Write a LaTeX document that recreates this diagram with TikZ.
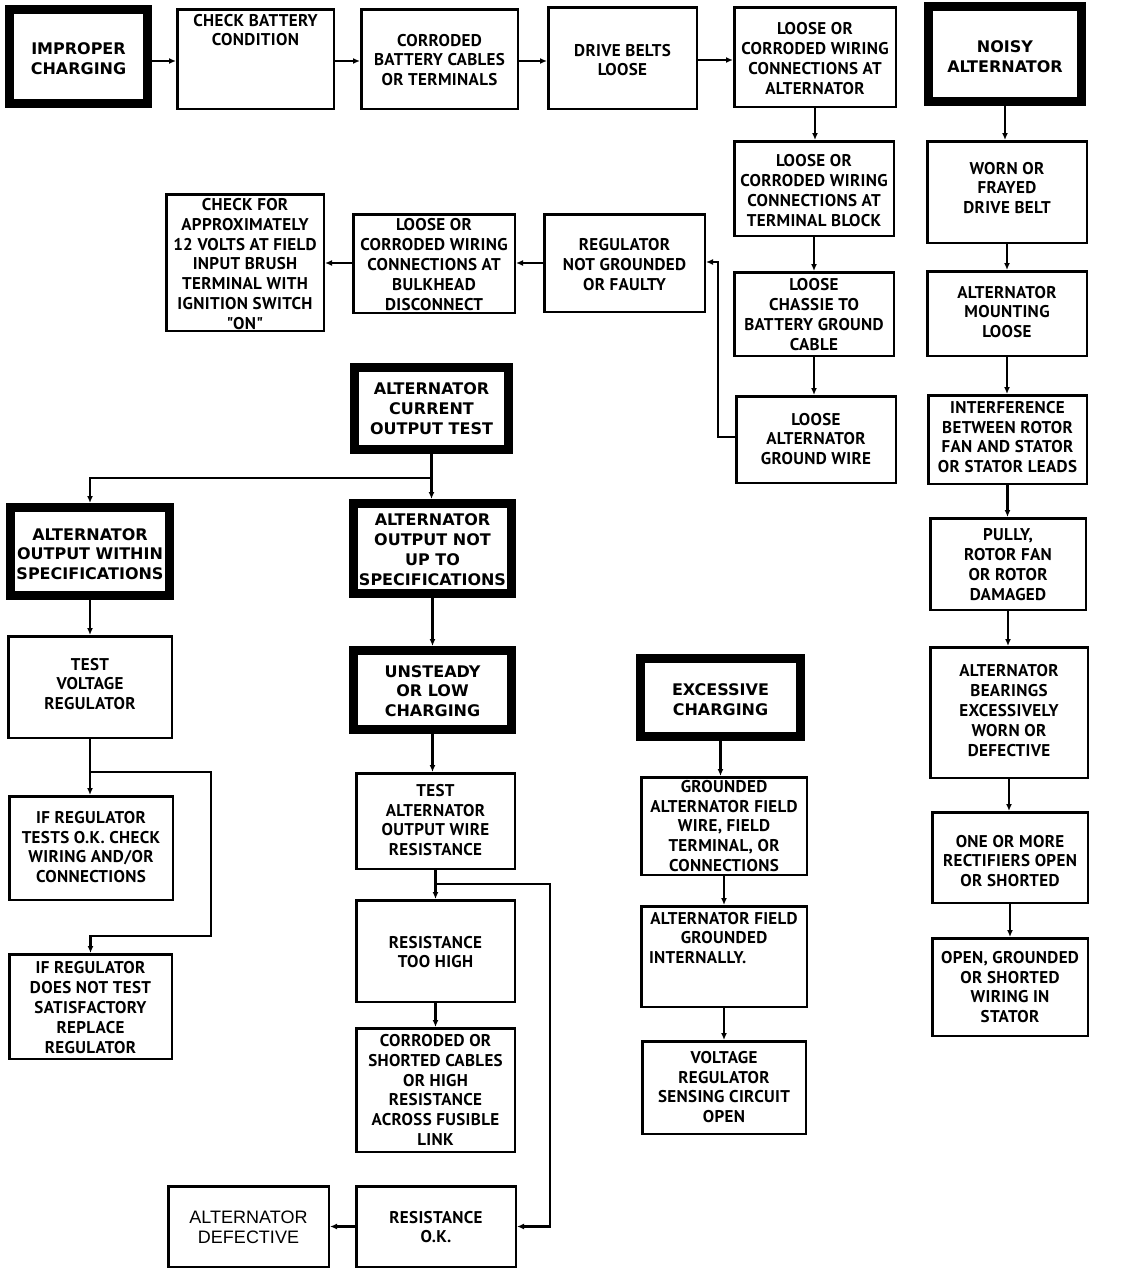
\documentclass[tikz,border=0pt]{standalone}
\usepackage{fontspec}
\setmainfont{PT Sans}[LetterSpace=2,Ligatures=TeXOff]
\newfontfamily\heavy{DejaVu Sans}
\newfontfamily\plainsans{Liberation Sans}
\usetikzlibrary{arrows.meta}
\def\insetnbox{2.5}
\def\insetkbox{9}
\newcommand\Bx[8]{%
  \pgfmathsetmacro\cx{(#3+#5)/2}%
  \pgfmathsetmacro\cy{(#4+#6)/2}%
  \pgfmathsetmacro\bw{#5-#3-\csname inset#1\endcsname}%
  \pgfmathsetmacro\bh{#6-#4-\csname inset#1\endcsname}%
  \node[#1, minimum width=\bw pt, minimum height=\bh pt] (#2) at (\cx,\cy) {};
  \node[#1 txt] at (\cx,#7) {#8};
}
\tikzset{
  nbox/.style={draw, line width=2.5pt, inner sep=0pt, rectangle},
  kbox/.style={draw, line width=9pt, inner sep=0pt, rectangle},
  nbox txt/.style={inner sep=0pt, align=center, font=\bfseries\fontsize{17}{19.8}\selectfont},
  kbox txt/.style={inner sep=0pt, align=center, font=\heavy\bfseries\fontsize{16}{19.8}\selectfont},
  conn/.style={line width=2.5pt, -{Latex[length=7pt,width=6pt]}},
}
\begin{document}
\begin{tikzpicture}[x=1pt,y=-1pt]
\fill[white] (0,0) rectangle (1120,1272);
\useasboundingbox (0,0) rectangle (1120,1272);
% top row
\Bx{kbox}{imp}{5}{5}{152}{108}{59}{IMPROPER\\CHARGING}
\Bx{nbox}{chk}{176}{8}{335}{110}{30}{CHECK BATTERY\\CONDITION}
\Bx{nbox}{cor}{360}{8}{519}{110}{60}{CORRODED\\BATTERY CABLES\\OR TERMINALS}
\Bx{nbox}{drv}{547}{6}{698}{110}{60}{DRIVE BELTS\\LOOSE}
\Bx{nbox}{lca}{733}{6}{897}{108}{58.5}{LOOSE OR\\CORRODED WIRING\\CONNECTIONS AT\\ALTERNATOR}
\Bx{kbox}{noisy}{924}{2}{1086}{106}{57}{NOISY\\ALTERNATOR}
% right column
\Bx{nbox}{worn}{926}{140}{1088}{244}{188}{WORN OR\\FRAYED\\DRIVE BELT}
\Bx{nbox}{mnt}{926}{270}{1088}{357}{312}{ALTERNATOR\\MOUNTING\\LOOSE}
\Bx{nbox}{intf}{927}{394}{1088}{485}{437}{INTERFERENCE\\BETWEEN ROTOR\\FAN AND STATOR\\OR STATOR LEADS}
\Bx{nbox}{pully}{929}{517}{1087}{611}{564.5}{PULLY,\\ROTOR FAN\\OR ROTOR\\DAMAGED}
\Bx{nbox}{bear}{929}{646}{1089}{779}{710.5}{ALTERNATOR\\BEARINGS\\EXCESSIVELY\\WORN OR\\DEFECTIVE}
\Bx{nbox}{rect}{931}{811}{1089}{904}{861}{ONE OR MORE\\RECTIFIERS OPEN\\OR SHORTED}
\Bx{nbox}{openst}{931}{937}{1089}{1037}{987}{OPEN, GROUNDED\\OR SHORTED\\WIRING IN\\STATOR}
% column 5
\Bx{nbox}{tb}{733}{140}{895}{237}{190.5}{LOOSE OR\\CORRODED WIRING\\CONNECTIONS AT\\TERMINAL BLOCK}
\Bx{nbox}{chassie}{733}{271}{895}{357}{314.5}{LOOSE\\CHASSIE TO\\BATTERY GROUND\\CABLE}
\Bx{nbox}{gw}{735}{395}{897}{484}{439}{LOOSE\\ALTERNATOR\\GROUND WIRE}
% row 2
\Bx{nbox}{chkfor}{165}{193}{325}{332}{264}{CHECK FOR\\APPROXIMATELY\\12 VOLTS AT FIELD\\INPUT BRUSH\\TERMINAL WITH\\IGNITION SWITCH\\"ON"}
\Bx{nbox}{bulk}{352}{213}{516}{314}{264.5}{LOOSE OR\\CORRODED WIRING\\CONNECTIONS AT\\BULKHEAD\\DISCONNECT}
\Bx{nbox}{reg}{543}{213}{706}{313}{264.5}{REGULATOR\\NOT GROUNDED\\OR FAULTY}
% current output test
\Bx{kbox}{acot}{350}{363}{513}{454}{408.5}{ALTERNATOR\\CURRENT\\OUTPUT TEST}
\Bx{kbox}{within}{6}{503}{174}{600}{554}{ALTERNATOR\\OUTPUT WITHIN\\SPECIFICATIONS}
\Bx{kbox}{notup}{349}{499}{516}{598}{549.5}{ALTERNATOR\\OUTPUT NOT\\UP TO\\SPECIFICATIONS}
\Bx{nbox}{tvr}{7}{635}{173}{739}{684}{TEST\\VOLTAGE\\REGULATOR}
\Bx{kbox}{unst}{349}{646}{516}{734}{691}{UNSTEADY\\OR LOW\\CHARGING}
\Bx{nbox}{iftests}{8}{795}{174}{901}{847}{IF REGULATOR\\TESTS O.K. CHECK\\WIRING AND/OR\\CONNECTIONS}
\Bx{nbox}{ifdoes}{8}{953}{173}{1060}{1007.5}{IF REGULATOR\\DOES NOT TEST\\SATISFACTORY\\REPLACE\\REGULATOR}
\Bx{nbox}{tao}{355}{772}{516}{870}{820}{TEST\\ALTERNATOR\\OUTPUT WIRE\\RESISTANCE}
\Bx{nbox}{tooh}{355}{899}{516}{1003}{952}{RESISTANCE\\TOO HIGH}
\Bx{nbox}{corsh}{355}{1027}{516}{1153}{1090}{CORRODED OR\\SHORTED CABLES\\OR HIGH\\RESISTANCE\\ACROSS FUSIBLE\\LINK}
\Bx{nbox}{rok}{355}{1185}{517}{1268}{1227}{RESISTANCE\\O.K.}
\Bx{nbox}{adef}{167}{1185}{330}{1268}{1227}{\plainsans\mdseries\fontsize{18}{21}\selectfont ALTERNATOR\\\plainsans\mdseries\fontsize{18}{21}\selectfont DEFECTIVE}
% excessive
\Bx{kbox}{exc}{636}{654}{805}{741}{700}{EXCESSIVE\\CHARGING}
\Bx{nbox}{gaf}{640}{776}{808}{876}{826}{GROUNDED\\ALTERNATOR FIELD\\WIRE, FIELD\\TERMINAL, OR\\CONNECTIONS}
\Bx{nbox}{afgi}{640}{905}{808}{1008}{938}{ALTERNATOR FIELD\\GROUNDED\\\hbox to 150pt{INTERNALLY.\hfil}}
\Bx{nbox}{vrsc}{641}{1040}{807}{1135}{1087}{VOLTAGE\\REGULATOR\\SENSING CIRCUIT\\OPEN}
% connectors top row
\draw[conn] (imp.east |- 0,61) -- (chk.west |- 0,61);
\draw[conn] (chk.east |- 0,61) -- (cor.west |- 0,61);
\draw[conn] (cor.east |- 0,61) -- (drv.west |- 0,61);
\draw[conn] (drv.east |- 0,60) -- (lca.west |- 0,60);
% column 5
\draw[conn] (lca.south) -- (lca.south |- tb.north);
\draw[conn] (tb.south) -- (tb.south |- chassie.north);
\draw[conn] (chassie.south) -- (chassie.south |- gw.north);
\draw[conn] (gw.west |- 0,437) -- (718,437) -- (718,262) -- (reg.east |- 0,262);
% row 2
\draw[conn] (reg.west |- 0,263) -- (bulk.east |- 0,263);
\draw[conn] (bulk.west |- 0,263) -- (chkfor.east |- 0,263);
% noisy column
\draw[conn] (noisy.south) -- (noisy.south |- worn.north);
\draw[conn] (worn.south) -- (worn.south |- mnt.north);
\draw[conn] (mnt.south) -- (mnt.south |- intf.north);
\draw[conn] (intf.south) -- (intf.south |- pully.north);
\draw[conn] (pully.south) -- (pully.south |- bear.north);
\draw[conn] (bear.south) -- (bear.south |- rect.north);
\draw[conn] (rect.south) -- (rect.south |- openst.north);
% current output test
\draw[conn] (acot.south) -- (acot.south |- 0,478) -| (within.north);
\draw[conn] (acot.south) -- (acot.south |- notup.north);
\draw[conn] (within.south) -- (within.south |- tvr.north);
\draw[conn] (notup.south) -- (notup.south |- unst.north);
\draw[conn] (tvr.south) -- (tvr.south |- iftests.north);
\draw[conn] (tvr.south |- 0,772) -- (211,772) -- (211,936) -| (ifdoes.north);
\draw[conn] (unst.south) -- (unst.south |- tao.north);
\draw[conn] (tao.south) -- (tao.south |- tooh.north);
\draw[conn] (tao.south |- 0,884) -- (550,884) |- (rok.east);
\draw[conn] (tooh.south) -- (tooh.south |- corsh.north);
\draw[conn] (rok.west) -- (adef.east);
% excessive
\draw[conn] (exc.south) -- (exc.south |- gaf.north);
\draw[conn] (gaf.south) -- (gaf.south |- afgi.north);
\draw[conn] (afgi.south) -- (afgi.south |- vrsc.north);
\end{tikzpicture}
\end{document}
